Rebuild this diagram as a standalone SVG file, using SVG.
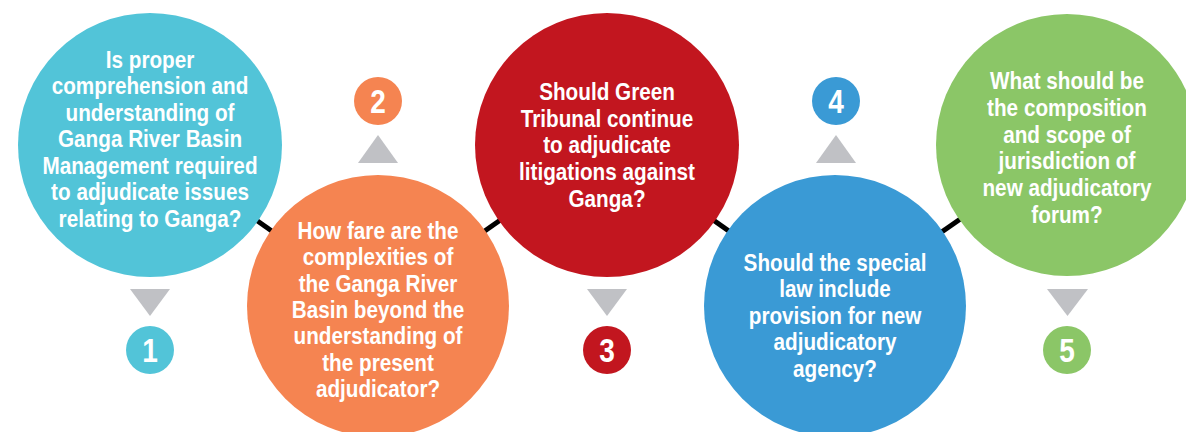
<svg xmlns="http://www.w3.org/2000/svg" width="1186" height="432" viewBox="0 0 1186 432">
<style>
.q{font-family:"Liberation Sans",Arial,sans-serif;font-weight:bold;font-size:23px;fill:#fff;text-anchor:middle}
.n{font-family:"Liberation Sans",Arial,sans-serif;font-weight:bold;font-size:33px;fill:#fff;text-anchor:middle}
.tri{fill:#C0C1C5}
.conn{stroke:#000;stroke-width:5;fill:none}
</style>
<rect width="1186" height="432" fill="#fff"/>
<g id="connectors">
<line class="conn" x1="150" y1="145" x2="378" y2="306"/>
<line class="conn" x1="378" y1="306" x2="607" y2="145"/>
<line class="conn" x1="607" y1="145" x2="835" y2="306"/>
<line class="conn" x1="835" y1="306" x2="1067" y2="145"/>
</g>
<g id="node1">
<circle cx="150" cy="145" r="132" fill="#52C4D8"/>
<g transform="translate(150 0) scale(0.9 1)">
<text class="q" x="0" y="68">Is proper</text>
<text class="q" x="0" y="94.5">comprehension and</text>
<text class="q" x="0" y="121">understanding of</text>
<text class="q" x="0" y="147.5">Ganga River Basin</text>
<text class="q" x="0" y="174">Management required</text>
<text class="q" x="0" y="200.5">to adjudicate issues</text>
<text class="q" x="0" y="227">relating to Ganga?</text>
</g>
</g>
<g id="node2">
<circle cx="378" cy="306" r="131" fill="#F58451"/>
<g transform="translate(378 0) scale(0.9 1)">
<text class="q" x="0" y="239">How fare are the</text>
<text class="q" x="0" y="265.5">complexities of</text>
<text class="q" x="0" y="292">the Ganga River</text>
<text class="q" x="0" y="318">Basin beyond the</text>
<text class="q" x="0" y="344.5">understanding of</text>
<text class="q" x="0" y="371">the present</text>
<text class="q" x="0" y="397">adjudicator?</text>
</g>
</g>
<g id="node3">
<circle cx="607" cy="145" r="132" fill="#C2161F"/>
<g transform="translate(607 0) scale(0.9 1)">
<text class="q" x="0" y="100">Should Green</text>
<text class="q" x="0" y="127">Tribunal continue</text>
<text class="q" x="0" y="153.5">to adjudicate</text>
<text class="q" x="0" y="180">litigations against</text>
<text class="q" x="0" y="207">Ganga?</text>
</g>
</g>
<g id="node4">
<circle cx="835" cy="306" r="131" fill="#3A9AD5"/>
<g transform="translate(835 0) scale(0.9 1)">
<text class="q" x="0" y="271">Should the special</text>
<text class="q" x="0" y="297.5">law include</text>
<text class="q" x="0" y="324">provision for new</text>
<text class="q" x="0" y="350.5">adjudicatory</text>
<text class="q" x="0" y="377">agency?</text>
</g>
</g>
<g id="node5">
<circle cx="1067" cy="145" r="131" fill="#8BC667"/>
<g transform="translate(1067 0) scale(0.9 1)">
<text class="q" x="0" y="89">What should be</text>
<text class="q" x="0" y="116">the composition</text>
<text class="q" x="0" y="143">and scope of</text>
<text class="q" x="0" y="169.5">jurisdiction of</text>
<text class="q" x="0" y="196">new adjudicatory</text>
<text class="q" x="0" y="223">forum?</text>
</g>
</g>
<g id="marker1">
<polygon class="tri" points="130,289 170,289 150,316"/>
<circle cx="150" cy="350" r="24" fill="#52C4D8"/>
<text class="n" x="0" y="362" transform="translate(150 0) scale(0.85 1)">1</text>
</g>
<g id="marker2">
<polygon class="tri" points="358,163 398,163 378,135"/>
<circle cx="378" cy="101" r="24" fill="#F58451"/>
<text class="n" x="0" y="113" transform="translate(378 0) scale(0.85 1)">2</text>
</g>
<g id="marker3">
<polygon class="tri" points="587,289 627,289 607,316"/>
<circle cx="607" cy="350" r="24" fill="#C2161F"/>
<text class="n" x="0" y="362" transform="translate(607 0) scale(0.85 1)">3</text>
</g>
<g id="marker4">
<polygon class="tri" points="816,163 856,163 836,135"/>
<circle cx="836" cy="101" r="24" fill="#3A9AD5"/>
<text class="n" x="0" y="113" transform="translate(836 0) scale(0.85 1)">4</text>
</g>
<g id="marker5">
<polygon class="tri" points="1047,289 1088,289 1067.5,316"/>
<circle cx="1067" cy="350" r="24" fill="#8BC667"/>
<text class="n" x="0" y="362" transform="translate(1067 0) scale(0.85 1)">5</text>
</g>
</svg>
